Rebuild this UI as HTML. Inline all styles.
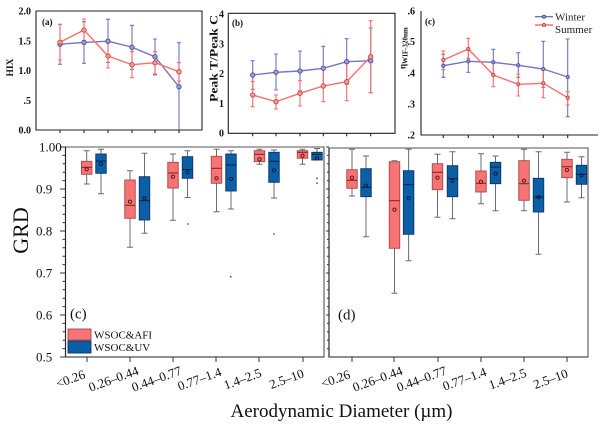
<!DOCTYPE html>
<html><head><meta charset="utf-8"><style>
html,body{margin:0;padding:0;background:#fff;}
svg{display:block;}
.ser{font-family:"Liberation Serif",serif;}
.wk{stroke:#6b6b6b;stroke-width:1;fill:none;}
.rb{fill:#f87373;stroke:#a24a4a;stroke-width:0.9;}
.bb{fill:#0c5fa7;stroke:#083764;stroke-width:0.9;}
.rm{stroke:#7a2323;stroke-width:1;}
.bm{stroke:#04213f;stroke-width:1;}
.rmean{fill:none;stroke:#5a1717;stroke-width:0.9;}
.bmean{fill:none;stroke:#021a33;stroke-width:0.9;}
.ax{stroke:#222;stroke-width:1.1;fill:none;}
.fr{stroke:#555;stroke-width:1.1;fill:none;}
.bl{stroke:#7474c4;stroke-width:1.4;fill:none;}
.rl{stroke:#ff6d6d;stroke-width:1.4;fill:none;}
.be{stroke:#7474c4;stroke-width:1.1;fill:none;}
.re{stroke:#ff6d6d;stroke-width:1.1;fill:none;}
.bd{fill:#9c9cd8;stroke:#4f4f99;stroke-width:0.9;}
.rd{fill:#ff9a9a;stroke:#c04444;stroke-width:0.9;}
</style></head><body>
<svg width="600" height="427" viewBox="0 0 600 427" xmlns="http://www.w3.org/2000/svg">
<rect width="600" height="427" fill="#fff"/>

<!-- ===== Panel (a) ===== -->
<g class="ser" font-weight="bold" font-size="10" fill="#111">
<text x="31" y="14.5" text-anchor="end">2.0</text>
<text x="31" y="44.5" text-anchor="end">1.5</text>
<text x="31" y="74" text-anchor="end">1.0</text>
<text x="31" y="104" text-anchor="end">.5</text>
<text x="31" y="133.5" text-anchor="end">0.0</text>
<text transform="translate(13,67.5) rotate(-90)" text-anchor="middle" font-size="9.5">HIX</text>
<text x="42" y="25" font-size="9">(a)</text>
</g>
<path class="ax" d="M36 11V130H202V11H36"/>
<path class="ax" d="M60 130v3M84 130v3M108 130v3M132 130v3M155 130v3M179 130v3"/>
<!-- error bars blue -->
<path class="be" d="M60 24.4V64.3M58 24.4h4M58 64.3h4M84 21.7V63.3M82 21.7h4M82 63.3h4M108 19.3V62.3M106 19.3h4M106 62.3h4M132 25.3V69.3M130 25.3h4M130 69.3h4M155 39V75M153 39h4M153 75h4M179 42.7V130M177 42.7h4"/>
<!-- error bars red -->
<path class="re" d="M60 24.3V60M58 24.3h4M58 60h4M84 19V40.7M82 19h4M82 40.7h4M108 42.7V68M106 42.7h4M106 68h4M132 51.7V77.7M130 51.7h4M130 77.7h4M155 51.7V74M153 51.7h4M153 74h4M179 62.7V81M177 62.7h4M177 81h4"/>
<polyline class="bl" points="60,44.2 84,42.4 108,41.2 132,47.2 155,56.8 179,86.8"/>
<polyline class="rl" points="60,42.3 84,30 108,56 132,64.7 155,62.7 179,71.7"/>
<g class="bd"><circle cx="60" cy="44.2" r="2.2"/><circle cx="84" cy="42.4" r="2.2"/><circle cx="108" cy="41.2" r="2.2"/><circle cx="132" cy="47.2" r="2.2"/><circle cx="155" cy="56.8" r="2.2"/><circle cx="179" cy="86.8" r="2.2"/></g>
<g class="rd"><circle cx="60" cy="42.3" r="2.2"/><circle cx="84" cy="30" r="2.2"/><circle cx="108" cy="56" r="2.2"/><circle cx="132" cy="64.7" r="2.2"/><circle cx="155" cy="62.7" r="2.2"/><circle cx="179" cy="71.7" r="2.2"/></g>

<!-- ===== Panel (b) ===== -->
<g class="ser" font-weight="bold" font-size="10" fill="#111">
<text x="224" y="17.5" text-anchor="end">4</text>
<text x="224" y="47.5" text-anchor="end">3</text>
<text x="224" y="77" text-anchor="end">2</text>
<text x="224" y="107" text-anchor="end">1</text>
<text x="224" y="136.5" text-anchor="end">0</text>
<text transform="translate(217.5,58.5) rotate(-90)" text-anchor="middle" font-size="11.5" textLength="87" lengthAdjust="spacingAndGlyphs">Peak T/Peak C</text>
<text x="232" y="26" font-size="9">(b)</text>
</g>
<path class="ax" d="M228.3 13.3V133.3H395V13.3H228.3"/>
<path class="ax" d="M252.7 133.3v3M276 133.3v3M300 133.3v3M323.3 133.3v3M346.7 133.3v3M370.7 133.3v3"/>
<path class="be" d="M252.7 60.7V89.3M250.7 60.7h4M250.7 89.3h4M276 54V90M274 54h4M274 90h4M300 51V91M298 51h4M298 91h4M323.3 46.3V86M321.3 46.3h4M321.3 86h4M346.7 38.7V84.3M344.7 38.7h4M344.7 84.3h4M370.7 28V92.7M368.7 28h4M368.7 92.7h4"/>
<path class="re" d="M252.7 81.7V106.7M250.7 81.7h4M250.7 106.7h4M276 95V109M274 95h4M274 109h4M300 80.7V106M298 80.7h4M298 106h4M323.3 69V101.7M321.3 69h4M321.3 101.7h4M346.7 61.7V100.7M344.7 61.7h4M344.7 100.7h4M370.7 20.7V92.7M368.7 20.7h4M368.7 92.7h4"/>
<polyline class="bl" points="252.7,75 276,72.3 300,71 323.3,68.3 346.7,61.7 370.7,60.7"/>
<polyline class="rl" points="252.7,95 276,101.7 300,93.3 323.3,86 346.7,81.7 370.7,56.7"/>
<g class="bd"><circle cx="252.7" cy="75" r="2.2"/><circle cx="276" cy="72.3" r="2.2"/><circle cx="300" cy="71" r="2.2"/><circle cx="323.3" cy="68.3" r="2.2"/><circle cx="346.7" cy="61.7" r="2.2"/><circle cx="370.7" cy="60.7" r="2.2"/></g>
<g class="rd"><circle cx="252.7" cy="95" r="2.2"/><circle cx="276" cy="101.7" r="2.2"/><circle cx="300" cy="93.3" r="2.2"/><circle cx="323.3" cy="86" r="2.2"/><circle cx="346.7" cy="81.7" r="2.2"/><circle cx="370.7" cy="56.7" r="2.2"/></g>

<!-- ===== Panel (c) top ===== -->
<g class="ser" font-weight="bold" font-size="10" fill="#111">
<text x="415" y="14.5" text-anchor="end">.6</text>
<text x="415" y="45" text-anchor="end">.5</text>
<text x="415" y="76.5" text-anchor="end">.4</text>
<text x="415" y="107.5" text-anchor="end">.3</text>
<text x="415" y="138.5" text-anchor="end">.2</text>
<text transform="translate(405.5,69) rotate(-90)" font-size="9">η<tspan font-size="7" dy="2">WIF-320nm</tspan></text>
<text x="425" y="24.5" font-size="9">(c)</text>
</g>
<path class="ax" d="M421 11V135H598"/>
<path class="ax" d="M443.3 135v3M468.3 135v3M493.3 135v3M518.3 135v3M543.3 135v3M567.7 135v3"/>
<path class="be" d="M443.3 54.3V77.3M441.3 54.3h4M441.3 77.3h4M468.3 49.3V72.3M466.3 49.3h4M466.3 72.3h4M493.3 49.3V75M491.3 49.3h4M491.3 75h4M518.3 52.7V77.3M516.3 52.7h4M516.3 77.3h4M543.3 41.3V87.3M541.3 41.3h4M541.3 87.3h4M567.7 39V116.7M565.7 39h4M565.7 116.7h4"/>
<path class="re" d="M443.3 51V69.7M441.3 51h4M441.3 69.7h4M468.3 38.3V58.3M466.3 38.3h4M466.3 58.3h4M493.3 62.3V86.7M491.3 62.3h4M491.3 86.7h4M518.3 74V96M516.3 74h4M516.3 96h4M543.3 70V97.7M541.3 70h4M541.3 97.7h4M567.7 91.7V105M565.7 91.7h4M565.7 105h4"/>
<polyline class="bl" points="443.3,65.7 468.3,61.3 493.3,62.3 518.3,65.3 543.3,69 567.7,77"/>
<polyline class="rl" points="443.3,60 468.3,49 493.3,75 518.3,84.3 543.3,83.3 567.7,97.7"/>
<g class="bd"><circle cx="443.3" cy="65.7" r="1.6"/><circle cx="468.3" cy="61.3" r="1.6"/><circle cx="493.3" cy="62.3" r="1.6"/><circle cx="518.3" cy="65.3" r="1.6"/><circle cx="543.3" cy="69" r="1.6"/><circle cx="567.7" cy="77" r="1.6"/></g>
<g class="rd"><circle cx="443.3" cy="60" r="1.6"/><circle cx="468.3" cy="49" r="1.6"/><circle cx="493.3" cy="75" r="1.6"/><circle cx="518.3" cy="84.3" r="1.6"/><circle cx="543.3" cy="83.3" r="1.6"/><circle cx="567.7" cy="97.7" r="1.6"/></g>
<!-- legend -->
<path class="bl" d="M535 16.7H553"/><circle class="bd" cx="544" cy="16.7" r="1.6"/>
<path class="rl" d="M535 25H553"/><circle class="rd" cx="544" cy="25" r="1.6"/>
<g class="ser" font-size="11" fill="#222">
<text x="555" y="20.7">Winter</text>
<text x="555" y="33">Summer</text>
</g>

<!-- ===== Bottom left panel ===== -->
<path class="fr" d="M65.5 147H324V357H65.5Z"/>
<path class="ax" d="M65.5 147V357H324"/>
<path stroke="#333" stroke-width="1" d="M60 147H65.5M60 189H65.5M60 231H65.5M60 273H65.5M60 315H65.5M60 357H65.5
M62.5 155.4H65.5M62.5 163.8H65.5M62.5 172.2H65.5M62.5 180.6H65.5
M62.5 197.4H65.5M62.5 205.8H65.5M62.5 214.2H65.5M62.5 222.6H65.5
M62.5 239.4H65.5M62.5 247.8H65.5M62.5 256.2H65.5M62.5 264.6H65.5
M62.5 281.4H65.5M62.5 289.8H65.5M62.5 298.2H65.5M62.5 306.6H65.5
M62.5 323.4H65.5M62.5 331.8H65.5M62.5 340.2H65.5M62.5 348.6H65.5
M87 357v5M130 357v5M173 357v5M216 357v5M259 357v5M303 357v5"/>
<g class="ser" font-size="13" fill="#111">
<text x="39" y="151.5">1.00</text>
<text x="36" y="193.5">0.9</text>
<text x="36" y="235.5">0.8</text>
<text x="36" y="277.5">0.7</text>
<text x="36" y="319.5">0.6</text>
<text x="36" y="361.5">0.5</text>
<text transform="translate(28,230.5) rotate(-90)" text-anchor="middle" font-size="22">GRD</text>
<text x="70" y="318.5" font-size="15">(c)</text>
</g>
<!-- legend -->
<rect x="68" y="329" width="23" height="11" fill="#f87373" stroke="#a24a4a" stroke-width="0.9"/>
<rect x="68" y="341" width="23" height="12" fill="#0c5fa7" stroke="#083764" stroke-width="0.9"/>
<g class="ser" font-size="11" fill="#111">
<text x="94" y="338.5">WSOC&amp;AFI</text>
<text x="94" y="351">WSOC&amp;UV</text>
</g>

<!-- boxes left -->
<path class="wk" d="M86.7 150.7V161.3M86.7 174.3V184M83.7 150.7H89.7M83.7 184H89.7"/>
<rect class="rb" x="81.45" y="161.3" width="10.5" height="13"/><path class="rm" d="M81.45 167.3H91.95"/><circle class="rmean" cx="86.7" cy="169.3" r="1.6"/>
<path class="wk" d="M101 149.3V154M101 173.3V193.7M98 149.3H104M98 193.7H104"/>
<rect class="bb" x="95.75" y="154" width="10.5" height="19.3"/><path class="bm" d="M95.75 161H106.25"/><circle class="bmean" cx="101" cy="164" r="1.6"/>

<path class="wk" d="M130 170.7V180M130 218.3V247.3M127 170.7H133M127 247.3H133"/>
<rect class="rb" x="124.75" y="180" width="10.5" height="38.3"/><path class="rm" d="M124.75 205.3H135.25"/><circle class="rmean" cx="130" cy="201.7" r="1.6"/>
<path class="wk" d="M144.5 153.3V176.7M144.5 220V233.3M141.5 153.3H147.5M141.5 233.3H147.5"/>
<rect class="bb" x="139.25" y="176.7" width="10.5" height="43.3"/><path class="bm" d="M139.25 200.7H149.75"/><circle class="bmean" cx="144.5" cy="198.3" r="1.6"/>

<path class="wk" d="M173 154V162.3M173 188V220.3M170 154H176M170 220.3H176"/>
<rect class="rb" x="167.75" y="162.3" width="10.5" height="25.7"/><path class="rm" d="M167.75 173H178.25"/><circle class="rmean" cx="173" cy="176.7" r="1.6"/>
<path class="wk" d="M187.5 150.7V156.7M187.5 178.3V197.5M184.5 150.7H190.5M184.5 197.5H190.5"/>
<rect class="bb" x="182.25" y="156.7" width="10.5" height="21.6"/><path class="bm" d="M182.25 169.5H192.75"/><circle class="bmean" cx="187.5" cy="172.3" r="1.6"/>
<circle cx="188" cy="224" r="0.9" fill="#555"/>

<path class="wk" d="M216.5 149.3V156.3M216.5 183.3V211.7M213.5 149.3H219.5M213.5 211.7H219.5"/>
<rect class="rb" x="211.25" y="156.3" width="10.5" height="27"/><path class="rm" d="M211.25 168.3H221.75"/><circle class="rmean" cx="216.5" cy="178.3" r="1.6"/>
<path class="wk" d="M231 150.7V154M231 191V209M228 150.7H234M228 209H234"/>
<rect class="bb" x="225.75" y="154" width="10.5" height="37"/><path class="bm" d="M225.75 165H236.25"/><circle class="bmean" cx="231" cy="179" r="1.6"/>
<circle cx="230.7" cy="276.7" r="0.9" fill="#555"/>

<path class="wk" d="M259.5 149.3V150.7M259.5 161.7V164.3M256.5 149.3H262.5M256.5 164.3H262.5"/>
<rect class="rb" x="254.25" y="150.7" width="10.5" height="11"/><path class="rm" d="M254.25 154.3H264.75"/><circle class="rmean" cx="259.5" cy="159.3" r="1.6"/>
<path class="wk" d="M274 150V152.3M274 182.3V198M271 150H277M271 198H277"/>
<rect class="bb" x="268.75" y="152.3" width="10.5" height="30"/><path class="bm" d="M268.75 161.3H279.25"/><circle class="bmean" cx="274" cy="170.3" r="1.6"/>
<circle cx="274" cy="234" r="0.9" fill="#555"/>

<path class="wk" d="M302.5 149.3V150.7M302.5 158.3V164.3M299.5 149.3H305.5M299.5 164.3H305.5"/>
<rect class="rb" x="297.25" y="150.7" width="10.5" height="7.6"/><path class="rm" d="M297.25 152.3H307.75"/><circle class="rmean" cx="302.5" cy="155.7" r="1.6"/>
<path class="wk" d="M317 148.5V152.3M314 148.5H320"/>
<rect class="bb" x="311.75" y="152.3" width="10.5" height="7.7"/><path class="bm" d="M311.75 154.3H322.25"/><circle class="bmean" cx="317" cy="158.5" r="1.6"/>
<circle cx="317" cy="178.3" r="0.9" fill="#555"/><circle cx="317" cy="183.3" r="0.9" fill="#555"/>

<!-- ===== Bottom right panel ===== -->
<path class="fr" d="M329 148H588V357H329Z"/>
<path class="ax" d="M329 148V357H588"/>
<path stroke="#333" stroke-width="1" d="M326 147H329M326 189H329M326 231H329M326 273H329M326 315H329
M327 155.4H329M327 163.8H329M327 172.2H329M327 180.6H329
M327 197.4H329M327 205.8H329M327 214.2H329M327 222.6H329
M327 239.4H329M327 247.8H329M327 256.2H329M327 264.6H329
M327 281.4H329M327 289.8H329M327 298.2H329M327 306.6H329
M327 323.4H329M327 331.8H329M327 340.2H329M327 348.6H329
M352 357v5M394 357v5M438 357v5M481 357v5M524 357v5M567 357v5"/>
<text class="ser" x="338" y="319.5" font-size="15" fill="#111">(d)</text>

<path class="wk" d="M352 149.3V169.7M352 188.3V196M349 149.3H355M349 196H355"/>
<rect class="rb" x="346.75" y="169.7" width="10.5" height="18.6"/><path class="rm" d="M346.75 180.3H357.25"/><circle class="rmean" cx="352" cy="177.7" r="1.6"/>
<path class="wk" d="M366 156V168.7M366 196.7V236.7M363 156H369M363 236.7H369"/>
<rect class="bb" x="360.75" y="168.7" width="10.5" height="28"/><path class="bm" d="M360.75 187.3H371.25"/><circle class="bmean" cx="366" cy="185.7" r="1.6"/>

<path class="wk" d="M391.5 160.7H397.5M394.5 248.3V293.3M391.5 293.3H397.5"/>
<rect class="rb" x="389.25" y="161.7" width="10.5" height="86.6"/><path class="rm" d="M389.25 200.7H399.75"/><circle class="rmean" cx="394.5" cy="209.7" r="1.6"/>
<path class="wk" d="M408.6 149.3V170.7M408.6 234.3V260.7M405.6 149.3H411.6M405.6 260.7H411.6"/>
<rect class="bb" x="403.35" y="170.7" width="10.5" height="63.6"/><path class="bm" d="M403.35 184.7H413.85"/><circle class="bmean" cx="408.6" cy="198.3" r="1.6"/>

<path class="wk" d="M437.5 154.3V163.7M437.5 189.7V217.3M434.5 154.3H440.5M434.5 217.3H440.5"/>
<rect class="rb" x="432.25" y="163.7" width="10.5" height="26"/><path class="rm" d="M432.25 172.3H442.75"/><circle class="rmean" cx="437.5" cy="177.7" r="1.6"/>
<path class="wk" d="M452.5 151.7V165.7M452.5 196.7V218.7M449.5 151.7H455.5M449.5 218.7H455.5"/>
<rect class="bb" x="447.25" y="165.7" width="10.5" height="31"/><path class="bm" d="M447.25 178.7H457.75"/><circle class="bmean" cx="452.5" cy="181" r="1.6"/>

<path class="wk" d="M481 153.7V171M481 192V203.7M478 153.7H484M478 203.7H484"/>
<rect class="rb" x="475.75" y="171" width="10.5" height="21"/><path class="rm" d="M475.75 183.3H486.25"/><circle class="rmean" cx="481" cy="181.7" r="1.6"/>
<path class="wk" d="M495.5 156V162.3M495.5 183.7V210.7M492.5 156H498.5M492.5 210.7H498.5"/>
<rect class="bb" x="490.25" y="162.3" width="10.5" height="21.4"/><path class="bm" d="M490.25 167H500.75"/><circle class="bmean" cx="495.5" cy="173.7" r="1.6"/>

<path class="wk" d="M524 149.3V160.7M524 200.3V210.7M521 149.3H527M521 210.7H527"/>
<rect class="rb" x="518.75" y="160.7" width="10.5" height="39.6"/><path class="rm" d="M518.75 183.7H529.25"/><circle class="rmean" cx="524" cy="180.7" r="1.6"/>
<path class="wk" d="M538.5 151.7V178.3M538.5 212V254.3M535.5 151.7H541.5M535.5 254.3H541.5"/>
<rect class="bb" x="533.25" y="178.3" width="10.5" height="33.7"/><path class="bm" d="M533.25 197H543.75"/><circle class="bmean" cx="538.5" cy="197.3" r="1.6"/>

<path class="wk" d="M567 152.3V159.3M567 177.7V202M564 152.3H570M564 202H570"/>
<rect class="rb" x="561.75" y="159.3" width="10.5" height="18.4"/><path class="rm" d="M561.75 166.7H572.25"/><circle class="rmean" cx="567" cy="170" r="1.6"/>
<path class="wk" d="M581.5 156.7V165.3M581.5 184.3V197.7M578.5 156.7H584.5M578.5 197.7H584.5"/>
<rect class="bb" x="576.25" y="165.3" width="10.5" height="19"/><path class="bm" d="M576.25 174.3H586.75"/><circle class="bmean" cx="581.5" cy="175.3" r="1.6"/>

<!-- x tick labels -->
<g class="ser" font-size="13" fill="#111" text-anchor="middle">
<text transform="translate(72,383) rotate(-20)">&lt;0.26</text>
<text transform="translate(115,383) rotate(-20)">0.26–0.44</text>
<text transform="translate(158,383) rotate(-20)">0.44–0.77</text>
<text transform="translate(201,383) rotate(-20)">0.77–1.4</text>
<text transform="translate(244,383) rotate(-20)">1.4–2.5</text>
<text transform="translate(288,383) rotate(-20)">2.5–10</text>
<text transform="translate(337,383) rotate(-20)">&lt;0.26</text>
<text transform="translate(379,383) rotate(-20)">0.26–0.44</text>
<text transform="translate(423,383) rotate(-20)">0.44–0.77</text>
<text transform="translate(466,383) rotate(-20)">0.77–1.4</text>
<text transform="translate(509,383) rotate(-20)">1.4–2.5</text>
<text transform="translate(552,383) rotate(-20)">2.5–10</text>
</g>
<text class="ser" x="341.5" y="417" font-size="19" text-anchor="middle" fill="#111">Aerodynamic Diameter (µm)</text>
</svg>
</body></html>
